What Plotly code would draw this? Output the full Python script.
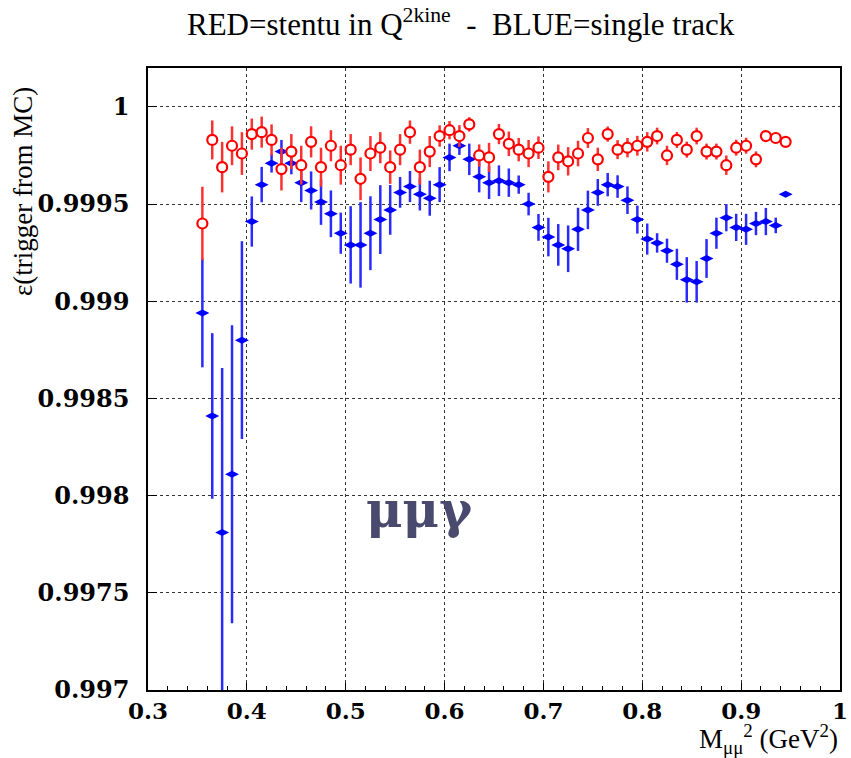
import plotly.graph_objects as go

# ---- data ----
x_bins = [0.355, 0.365, 0.375, 0.385, 0.395, 0.405, 0.415, 0.425, 0.435, 0.445,
          0.455, 0.465, 0.475, 0.485, 0.495, 0.505, 0.515, 0.525, 0.535, 0.545,
          0.555, 0.565, 0.575, 0.585, 0.595, 0.605, 0.615, 0.625, 0.635, 0.645,
          0.655, 0.665, 0.675, 0.685, 0.695, 0.705, 0.715, 0.725, 0.735, 0.745,
          0.755, 0.765, 0.775, 0.785, 0.795, 0.805, 0.815, 0.825, 0.835, 0.845,
          0.855, 0.865, 0.875, 0.885, 0.895, 0.905, 0.915, 0.925, 0.935, 0.945]

red_eff = [0.99940, 0.99983, 0.99969, 0.99980, 0.99976, 0.99986, 0.99987, 0.99983, 0.99968, 0.99977,
           0.99970, 0.99982, 0.99969, 0.99980, 0.99970, 0.99978, 0.99963, 0.99976, 0.99979, 0.99969,
           0.99978, 0.99987, 0.99969, 0.99977, 0.99985, 0.99988, 0.99985, 0.99991, 0.99975, 0.99974,
           0.99986, 0.99981, 0.99978, 0.99976, 0.99979, 0.99964, 0.99974, 0.99972, 0.99976, 0.99984,
           0.99973, 0.99986, 0.99978, 0.99979, 0.99980, 0.99982, 0.99985, 0.99975, 0.99983, 0.99978,
           0.99985, 0.99977, 0.99977, 0.99970, 0.99979, 0.99980, 0.99973, 0.99985, 0.99984, 0.99982]
red_err = [0.000189, 0.00010, 0.00013, 0.00010, 0.00011, 0.00008, 0.00008, 0.00008, 0.00011, 0.00009,
           0.00010, 0.00008, 0.00010, 0.00008, 0.00010, 0.00008, 0.00011, 0.00009, 0.00008, 0.000086,
           0.00008, 0.00006, 0.00009, 0.00008, 0.000055, 0.000047, 0.000056, 0.000037, 0.000057, 0.000075,
           0.000052, 0.000063, 0.00006, 0.00007, 0.000058, 0.00008, 0.000066, 0.000073, 0.000066, 0.000051,
           0.00006, 0.000039, 0.000049, 0.00005, 0.000051, 0.00005, 0.000043, 0.00005, 0.000041, 0.000041,
           0.000043, 0.000041, 0.000041, 0.00005, 0.000041, 0.000041, 0.000041, 0.000026, 0.000028, 0.000024]

blue_eff = [0.99894, 0.99841, 0.99781, 0.99811, 0.99880, 0.99941, 0.99960, 0.99971, 0.99977, 0.99971,
            0.99961, 0.99957, 0.99951, 0.99945, 0.99935, 0.99929, 0.99929, 0.99935, 0.99942, 0.99947,
            0.99956, 0.99959, 0.99955, 0.99953, 0.99960, 0.99974, 0.99980, 0.99973, 0.99964, 0.99961,
            0.99962, 0.99961, 0.99960, 0.99950, 0.99938, 0.99933, 0.99929, 0.99927, 0.99937, 0.99947,
            0.99956, 0.99960, 0.99959, 0.99952, 0.99942, 0.99932, 0.99930, 0.99926, 0.99919, 0.99911,
            0.99910, 0.99922, 0.99935, 0.99943, 0.99938, 0.99937, 0.99940, 0.99941, 0.99939, 0.99955]
blue_err = [0.00028, 0.000426, 0.000846, 0.000767, 0.000509, 0.000129, 0.000091, 0.000048, 0.00006, 0.000057,
            0.0001, 0.000098, 0.000117, 0.00012, 0.000106, 0.000199, 0.00022, 0.00019, 0.000177, 0.000128,
            0.000079, 0.00008, 0.000083, 0.00009, 0.00009, 0.000071, 0.000047, 0.000081, 0.00008, 0.000084,
            0.000079, 0.000073, 0.000047, 0.000058, 0.000069, 0.000099, 0.000107, 0.00012, 0.000111, 0.000099,
            0.000069, 0.00006, 0.000058, 0.000071, 0.000072, 0.00008, 0.00005, 0.000062, 0.00008, 0.000117,
            0.000107, 0.0001, 0.00008, 0.00007, 0.00007, 0.00008, 0.00006, 0.00007, 0.00004, 0.0]

x_ticks = [0.3, 0.4, 0.5, 0.6, 0.7, 0.8, 0.9, 1.0]
x_ticklabels = ["0.3", "0.4", "0.5", "0.6", "0.7", "0.8", "0.9", "1"]
y_ticks = [0.997, 0.9975, 0.998, 0.9985, 0.999, 0.9995, 1.0]
y_ticklabels = ["0.997", "0.9975", "0.998", "0.9985", "0.999", "0.9995", "1"]

title_text = "RED=stentu in Q<sup>2kine</sup>  -  BLUE=single track"
ytitle_text = "ε(trigger from MC)"
xtitle_text = "M<sub>μμ</sub><sup>2</sup> (GeV<sup>2</sup>)"
label_text = "μμγ"

# ---- figure ----
fig = go.Figure()

fig.add_trace(go.Scatter(
    x=x_bins, y=blue_eff, mode="markers",
    marker=dict(symbol="diamond-wide", size=10, color="#0000ff"),
    error_y=dict(type="data", array=blue_err, visible=True, color="#2a2aff",
                 thickness=2.5, width=0),
    showlegend=False, cliponaxis=True,
))
fig.add_trace(go.Scatter(
    x=x_bins, y=red_eff, mode="markers",
    marker=dict(symbol="circle", size=10, color="white",
                line=dict(color="#ff0000", width=2.2)),
    error_y=dict(type="data", array=red_err, visible=True, color="#ff3030",
                 thickness=2.5, width=0),
    showlegend=False, cliponaxis=True,
))

W, H = 851, 758
L, R, T, B = 148, 11, 68, 68

fig.update_layout(
    width=W, height=H,
    margin=dict(l=L, r=R, t=T, b=B, autoexpand=False),
    paper_bgcolor="white", plot_bgcolor="white",
    font=dict(family="Liberation Serif", color="black"),
    xaxis=dict(
        range=[0.3, 1.0], tickvals=x_ticks, ticktext=x_ticklabels,
        automargin=False,
        showline=True, linecolor="black", linewidth=1.5, mirror=True,
        ticks="inside", ticklen=7, tickcolor="black", tickwidth=1,
        showgrid=True, gridcolor="#333333", griddash="dot", gridwidth=1,
        zeroline=False, ticklabelstandoff=0,
        tickfont=dict(family="DejaVu Serif", size=23, weight="bold", color="black"),
        minor=dict(dtick=0.02, tick0=0.3, ticks="inside", ticklen=4,
                   tickcolor="black", showgrid=False),
    ),
    yaxis=dict(
        range=[0.997, 1.0002], tickvals=y_ticks, ticktext=y_ticklabels,
        automargin=False,
        showline=True, linecolor="black", linewidth=1.5, mirror=True,
        ticks="inside", ticklen=9, tickcolor="black", tickwidth=1,
        showgrid=True, gridcolor="#333333", griddash="dot", gridwidth=1,
        zeroline=False, ticklabelstandoff=12,
        tickfont=dict(family="DejaVu Serif", size=24, weight="bold", color="black"),
    ),
)

pw = W - L - R
ph = H - T - B

def px_x(p):
    return (p - L) / pw

def px_y(p):
    return (H - B - p) / ph

fig.add_annotation(text=title_text, xref="paper", yref="paper",
                   x=px_x(461), y=px_y(22), xanchor="center", yanchor="middle",
                   showarrow=False, font=dict(family="Liberation Serif", size=31, color="black"))
fig.add_annotation(text=ytitle_text, xref="paper", yref="paper",
                   x=px_x(23), y=px_y(192), xanchor="center", yanchor="middle",
                   textangle=-90, showarrow=False,
                   font=dict(family="Liberation Serif", size=27, color="black"))
fig.add_annotation(text=xtitle_text, xref="paper", yref="paper",
                   x=1.0, y=px_y(739), xanchor="right", yanchor="middle",
                   showarrow=False, font=dict(family="Liberation Serif", size=27, color="black"))
fig.add_annotation(text=label_text, xref="x", yref="y",
                   x=0.575, y=0.99793, xanchor="center", yanchor="middle",
                   showarrow=False,
                   font=dict(family="DejaVu Serif", size=50, weight="bold", color="#4a4a6e"))

fig.write_html("out.html")
